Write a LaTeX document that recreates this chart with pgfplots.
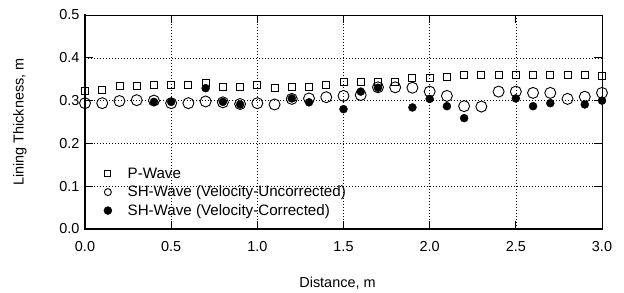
\documentclass[border=0pt]{standalone}
\usepackage{pgfplots}
\pgfplotsset{compat=1.18}
\usepackage{fontspec}
\setmainfont{Liberation Sans}
\newcommand{\fs}{\fontsize{14.5}{17}\selectfont}
\newcommand{\fl}{\fontsize{15.2}{18}\selectfont}
\pgfplotsset{
  legimg/.style={legend image code/.code={\path (0cm,0cm) (0.92cm,0cm);\draw[mark repeat=2,mark phase=2,##1,mark size=#1] plot coordinates {(0cm,0cm) (0.3cm,0cm) (0.92cm,0cm)};}},
}
\begin{document}
\begin{tikzpicture}
\useasboundingbox (-85bp,-64bp) rectangle (539bp,229bp);
\begin{axis}[
  at={(0,0)}, anchor=south west,
  scale only axis, width=517bp, height=214bp,
  xmin=0, xmax=3, ymin=0, ymax=0.5,
  xtick={0,0.5,1,1.5,2,2.5,3},
  ytick={0,0.1,0.2,0.3,0.4,0.5},
  /pgf/number format/assume math mode=true,
  /pgf/number format/fixed,
  /pgf/number format/fixed zerofill,
  /pgf/number format/precision=1,
  xticklabel style={anchor=base, yshift=-22bp, font=\fs},
  yticklabel style={xshift=-2bp, font=\fs},
  tick align=inside,
  major tick length=8bp,
  every tick/.style={black, line width=1bp},
  axis line style={line width=0.9bp},
  grid=major,
  major grid style={black, line width=0.6bp, dash pattern=on 1bp off 2bp},
  clip=false,
  xlabel={Distance, m},
  ylabel={Lining Thickness, m},
  every axis x label/.style={at={(axis description cs:0.5,0)}, anchor=base, yshift=-58bp, xshift=-6bp, font=\fs},
  every axis y label/.style={at={([xshift=-65bp]axis description cs:0,0.5)}, rotate=90, anchor=center, font=\fs},
  legend style={at={(axis description cs:0,0)}, anchor=south west, xshift=11bp, yshift=9bp,
    draw=none, fill=none, font=\fl, row sep=4bp, nodes={inner ysep=1bp}},
  legend cell align=left,
]
\addplot[only marks, mark=square, mark size=3.5bp, black, mark options={line width=0.9bp}, legimg=3bp] coordinates {
(0.0,0.323)(0.1,0.325)(0.2,0.334)(0.3,0.334)(0.4,0.336)(0.5,0.336)(0.6,0.336)(0.7,0.342)(0.8,0.333)(0.9,0.333)
(1.0,0.336)(1.1,0.329)(1.2,0.331)(1.3,0.333)(1.4,0.336)(1.5,0.344)(1.6,0.344)(1.7,0.344)(1.8,0.344)(1.9,0.354)
(2.0,0.354)(2.1,0.356)(2.2,0.360)(2.3,0.360)(2.4,0.361)(2.5,0.361)(2.6,0.360)(2.7,0.359)(2.8,0.359)(2.9,0.359)(3.0,0.357)};
\addlegendentry{P-Wave}
\addplot[only marks, mark=o, mark size=5.5bp, black, mark options={line width=0.9bp}, legimg=3.5bp] coordinates {
(0.0,0.294)(0.1,0.294)(0.2,0.299)(0.3,0.301)(0.4,0.300)(0.5,0.294)(0.6,0.294)(0.7,0.298)(0.8,0.296)(0.9,0.292)
(1.0,0.294)(1.1,0.291)(1.2,0.304)(1.3,0.305)(1.4,0.308)(1.5,0.311)(1.6,0.313)(1.7,0.331)(1.8,0.331)(1.9,0.330)
(2.0,0.321)(2.1,0.311)(2.2,0.287)(2.3,0.286)(2.4,0.321)(2.5,0.321)(2.6,0.318)(2.7,0.318)(2.8,0.304)(2.9,0.309)(3.0,0.318)};
\addlegendentry{SH-Wave (Velocity-Uncorrected)}
\addplot[only marks, mark=*, mark size=4bp, black, legimg=4bp] coordinates {
(0.4,0.297)(0.5,0.297)(0.7,0.329)(0.8,0.297)(0.9,0.291)(1.2,0.305)(1.3,0.296)(1.5,0.280)(1.6,0.321)(1.7,0.330)
(1.9,0.284)(2.0,0.304)(2.1,0.287)(2.2,0.259)(2.5,0.305)(2.6,0.287)(2.7,0.294)(2.9,0.291)(3.0,0.300)};
\addlegendentry{SH-Wave (Velocity-Corrected)}
\draw[line width=2bp, line cap=rect] (rel axis cs:0,1) -- (rel axis cs:0,0) -- (rel axis cs:1,0);
\end{axis}
\end{tikzpicture}
\end{document}
